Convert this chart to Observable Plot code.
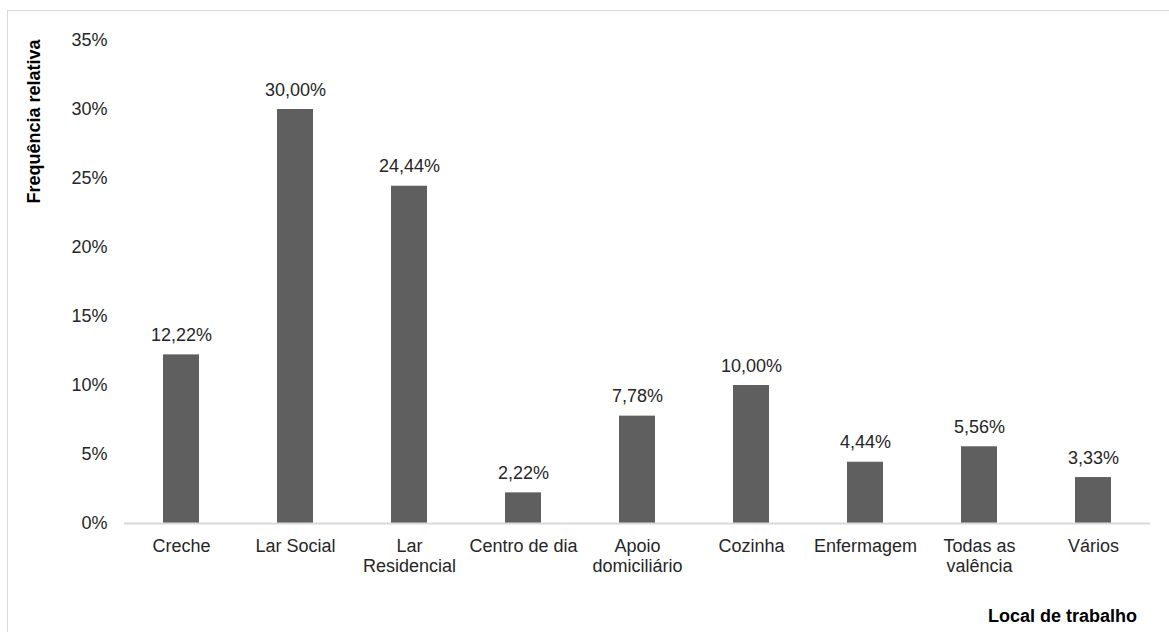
<!DOCTYPE html>
<html>
<head>
<meta charset="utf-8">
<script src="https://cdn.jsdelivr.net/npm/d3@7"></script>
<script src="https://cdn.jsdelivr.net/npm/@observablehq/plot@0.6"></script>
<style>
  html, body { margin: 0; padding: 0; background: #fff; }
  #wrap { position: relative; width: 1169px; height: 632px; overflow: hidden; }
  #border { position: absolute; left: 7px; top: 10px; width: 1200px; height: 640px; border: 1px solid #d9d9d9; box-sizing: border-box; }
  #chart { position: absolute; left: 0; top: 0; }
</style>
</head>
<body>
<div id="wrap"><div id="border"></div><div id="chart"></div></div>
<script>
const categories = ["Creche", "Lar Social", "Lar\nResidencial", "Centro de dia", "Apoio\ndomiciliário", "Cozinha", "Enfermagem", "Todas as\nvalência", "Vários"];
const values = [12.22, 30.00, 24.44, 2.22, 7.78, 10.00, 4.44, 5.56, 3.33];
const yTicks = [0, 5, 10, 15, 20, 25, 30, 35];
const yTitle = "Frequência relativa";
const xTitle = "Local de trabalho";

const data = categories.map((c, i) => ({cat: c, v: values[i]}));
const fmt = v => v.toFixed(2).replace(".", ",") + "%";

const plot = Plot.plot({
  width: 1169,
  height: 632,
  marginLeft: 124,
  marginRight: 19,
  marginTop: 40,
  marginBottom: 109,
  style: {fontFamily: "'Liberation Sans', Arial, sans-serif", fontSize: "18px", color: "#262626", background: "transparent"},
  x: {domain: categories, paddingInner: 0.684, paddingOuter: 0.342, align: 0.5},
  y: {domain: [0, 35]},
  marks: [
    Plot.barY(data, {x: "cat", y: "v", fill: "#5f5f5f"}),
    Plot.ruleY([0], {stroke: "#d9d9d9", strokeWidth: 2}),
    Plot.axisY({ticks: yTicks, tickSize: 0, tickPadding: 17, tickFormat: d => d + "%", label: null, fill: "#262626", fontSize: 18}),
    Plot.axisX({tickSize: 0, tickPadding: 14, label: null, lineHeight: 1.11, fill: "#262626", fontSize: 18}),
    Plot.text(data, {x: "cat", y: "v", text: d => fmt(d.v), lineAnchor: "bottom", dy: -14, fill: "#262626", fontSize: 18})
  ]
});

const svg = d3.select(plot);
svg.append("text")
  .attr("transform", "translate(40,121.5) rotate(-90)")
  .attr("text-anchor", "middle")
  .attr("font-family", "'Liberation Sans', Arial, sans-serif")
  .attr("font-weight", "bold")
  .attr("font-size", 18)
  .attr("fill", "#000")
  .text(yTitle);
svg.append("text")
  .attr("x", 1137)
  .attr("y", 621.5)
  .attr("text-anchor", "end")
  .attr("font-family", "'Liberation Sans', Arial, sans-serif")
  .attr("font-weight", "bold")
  .attr("font-size", 18)
  .attr("fill", "#000")
  .text(xTitle);

document.getElementById("chart").appendChild(plot);
</script>
</body>
</html>
